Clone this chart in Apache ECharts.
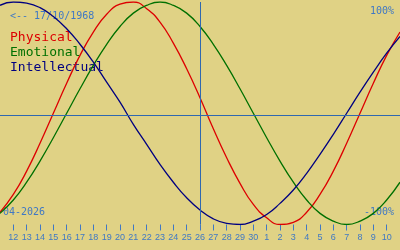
<!DOCTYPE html>
<html><head><meta charset="utf-8">
<script src="https://cdn.jsdelivr.net/npm/echarts@6/dist/echarts.min.js"></script>
<style>html,body{margin:0;padding:0;background:#e0d285}#c{width:400px;height:250px}</style>
</head><body><div id="c"></div>
<script>
// Days shown (April 11 2026 .. May 11 2026)
var days = ['11','12','13','14','15','16','17','18','19','20','21','22','23','24','25','26','27','28','29','30','1','2','3','4','5','6','7','8','9','10','11'];
var physical = [-0.89,-0.73,-0.52,-0.27,0,0.27,0.52,0.73,0.89,0.98,1.00,0.94,0.82,0.63,0.40,0.14,-0.14,-0.40,-0.63,-0.82,-0.94,-1.00,-0.98,-0.89,-0.73,-0.52,-0.27,0,0.27,0.52,0.73];
var emotional = [-0.90,-0.78,-0.62,-0.43,-0.22,0,0.22,0.43,0.62,0.78,0.90,0.97,1.00,0.97,0.90,0.78,0.62,0.43,0.22,0,-0.22,-0.43,-0.62,-0.78,-0.90,-0.97,-1.00,-0.97,-0.90,-0.78,-0.62];
var intellectual = [0.97,1.00,0.99,0.95,0.87,0.76,0.62,0.46,0.28,0.10,-0.10,-0.28,-0.46,-0.62,-0.76,-0.87,-0.95,-0.99,-1.00,-0.97,-0.91,-0.81,-0.69,-0.54,-0.37,-0.19,0,0.19,0.37,0.54,0.69];
var today = '26';
var birthText = '<-- 17/10/1968';
var monthText = '04-2026';
var seriesNames = ['Physical','Emotional','Intellectual'];
var seriesColors = ['#dd0000','#007000','#000080'];

var blue = '#3f78c4';
var lineBlue = '#2f68b0';
var mono = '"DejaVu Sans Mono", "Liberation Mono", monospace';
var chart = echarts.init(document.getElementById('c'), null, {renderer:'canvas'});
var lastIdx = days.length - 1;
function mk(name, data, color, extra){
  var s = {name:name,type:'line',data:data,smooth:true,showSymbol:false,symbol:'none',
    lineStyle:{width:1.3,color:color},itemStyle:{color:color},silent:true,animation:false};
  if(extra) s.markLine = extra;
  return s;
}
var marks = {silent:true,symbol:'none',animation:false,label:{show:false},
  lineStyle:{color:lineBlue,width:1,type:'solid'},
  data:[{xAxis:today},{yAxis:-0.02}]};
chart.setOption({
  backgroundColor:'#e0d285',
  animation:false,
  grid:{left:0,right:0,top:2,bottom:25.5,containLabel:false},
  xAxis:{type:'category',data:days,boundaryGap:false,position:'bottom',
    axisLine:{show:false,onZero:false},
    axisTick:{show:true,length:6,lineStyle:{color:blue,width:1},
      interval:function(i){return i>0 && i<lastIdx;}},
    axisLabel:{color:blue,fontSize:9,fontFamily:'"Liberation Sans", Arial, sans-serif',margin:9,
      interval:function(i){return i>0 && i<lastIdx;}},
    splitLine:{show:false}},
  yAxis:{type:'value',min:-1,max:1,show:false,splitLine:{show:false}},
  series:[
    mk(seriesNames[0],physical,seriesColors[0],marks),
    mk(seriesNames[1],emotional,seriesColors[1]),
    mk(seriesNames[2],intellectual,seriesColors[2])
  ],
  graphic:[
    {type:'text',left:10,top:11.5,silent:true,style:{text:birthText,fill:blue,font:'10px '+mono}},
    {type:'text',right:6,top:6.5,silent:true,style:{text:'100%',fill:blue,font:'10px '+mono}},
    {type:'text',right:6,top:207,silent:true,style:{text:'-100%',fill:blue,font:'10px '+mono}},
    {type:'text',left:3,top:207,silent:true,style:{text:monthText,fill:blue,font:'10px '+mono}},
    {type:'text',left:10,top:31,silent:true,style:{text:seriesNames[0],fill:seriesColors[0],font:'13px '+mono}},
    {type:'text',left:10,top:46,silent:true,style:{text:seriesNames[1],fill:seriesColors[1],font:'13px '+mono}},
    {type:'text',left:10,top:61,silent:true,style:{text:seriesNames[2],fill:seriesColors[2],font:'13px '+mono}}
  ]
});
</script></body></html>
